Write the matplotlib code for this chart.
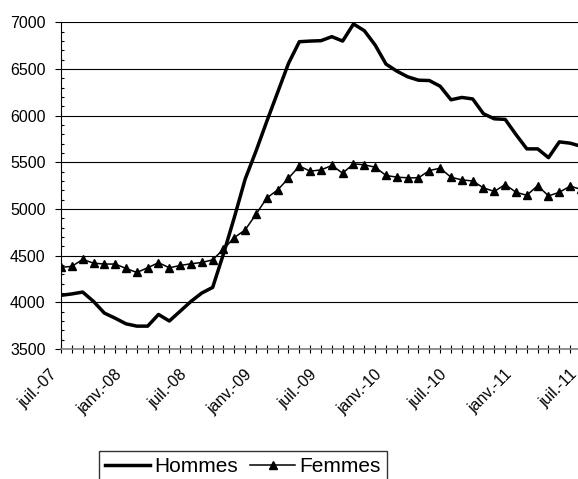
import numpy as np
import matplotlib
matplotlib.use("Agg")
import matplotlib.pyplot as plt
from matplotlib.transforms import ScaledTranslation

plt.rcParams['font.family'] = ['Liberation Sans', 'DejaVu Sans']

# monthly values, juil.-07 .. juil.-11
hommes = [4075, 4090, 4110, 4010, 3885, 3830, 3770, 3745, 3745, 3870, 3800, 3905,
          4010, 4100, 4160, 4520, 4910, 5320, 5620, 5940, 6250, 6560, 6792, 6799,
          6803, 6846, 6799, 6982, 6910, 6756, 6552, 6477, 6416, 6380, 6376, 6315,
          6170, 6195, 6179, 6020, 5966, 5960, 5797, 5644, 5644, 5550, 5719, 5705,
          5672]
femmes = [4375, 4385, 4460, 4420, 4410, 4410, 4363, 4320, 4370, 4425, 4370, 4395,
          4413, 4427, 4455, 4570, 4694, 4776, 4944, 5118, 5204, 5330, 5460, 5405,
          5419, 5466, 5384, 5484, 5473, 5448, 5359, 5341, 5334, 5334, 5412, 5437,
          5340, 5312, 5300, 5226, 5188, 5262, 5179, 5147, 5250, 5140, 5179, 5245,
          5210]
tick_labels = ['juil.-07', 'janv.-08', 'juil.-08', 'janv.-09', 'juil.-09',
               'janv.-10', 'juil.-10', 'janv.-11', 'juil.-11']

x = np.arange(len(hommes))

fig = plt.figure(figsize=(5.78, 4.79), dpi=100)
ax = fig.add_axes([61 / 578, 130 / 479, 520 / 578, 326.7 / 479])

ax.plot(x, hommes, color='black', lw=2.5, label='Hommes', zorder=3)
ax.plot(x, femmes, color='black', lw=1.1, marker='^', markersize=6,
        label='Femmes', zorder=3)

ax.set_xlim(0, 48)
ax.set_ylim(3500, 7000)

# y axis
ax.set_yticks(np.arange(3500, 7001, 500))
ax.set_yticks(np.arange(3500, 7001, 100), minor=True)
ax.tick_params(axis='y', which='major', direction='out', length=4, width=0.8,
               labelsize=11.5, pad=7)
ax.tick_params(axis='y', which='minor', direction='in', length=2.5, width=0.8)
ax.yaxis.grid(True, which='major', color='black', lw=0.8, zorder=1)

# x axis
ax.set_xticks(np.arange(0, 49, 6))
ax.set_xticklabels(tick_labels)
ax.set_xticks(np.arange(0, 49), minor=True)
ax.tick_params(axis='x', which='both', direction='inout', length=6, width=0.8,
               color='black')
ax.tick_params(axis='x', which='major', labelsize=11.5, pad=10)
shift = ScaledTranslation(-0.115, 0, fig.dpi_scale_trans)
for lab in ax.get_xticklabels():
    lab.set_rotation(45)
    lab.set_ha('right')
    lab.set_va('top')
    lab.set_rotation_mode('anchor')
    lab.set_transform(lab.get_transform() + shift)

for s in ['top', 'right']:
    ax.spines[s].set_visible(False)
ax.spines['left'].set_color('black')
ax.spines['left'].set_linewidth(0.8)
ax.spines['bottom'].set_color('#808080')
ax.spines['bottom'].set_linewidth(1.2)

leg = ax.legend(loc='upper left', bbox_to_anchor=(99 / 578, 1 - 451 / 479),
                bbox_transform=fig.transFigure, ncol=2, frameon=True,
                fancybox=False, edgecolor='black', fontsize=15,
                handlelength=2.15, handletextpad=0.2, columnspacing=0.6,
                borderpad=0.3, borderaxespad=0, numpoints=1)
leg.get_frame().set_linewidth(1.0)

fig.savefig('out.png', dpi=100)
